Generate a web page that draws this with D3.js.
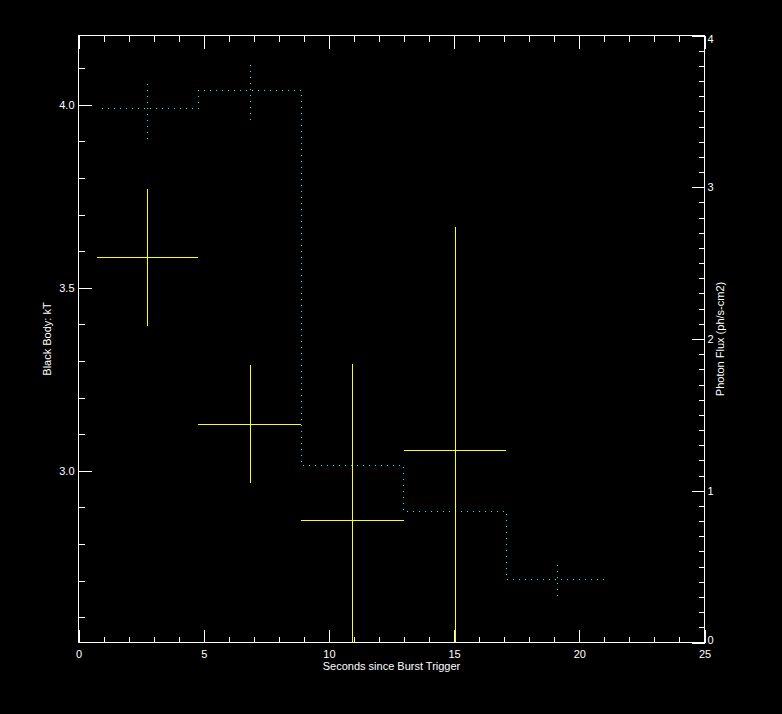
<!DOCTYPE html>
<html>
<head>
<meta charset="utf-8">
<script src="https://cdn.jsdelivr.net/npm/d3@7"></script>
<style>
  html, body { margin: 0; padding: 0; background: #000; }
  svg { display: block; }
  text { font-family: "Liberation Sans", Arial, sans-serif; font-size: 11px; fill: #fff; }
</style>
</head>
<body>
<svg id="chart" width="782" height="714"></svg>
<script>
// Black body kT + photon flux vs time since burst trigger

// ─── Data ─────────────────────────────────────────────────────────────────────

// time bins (seconds since trigger)
const binEdges   = [0.73, 4.79, 8.90, 12.99, 17.09, 20.96];
const binCenters = [2.76, 6.86, 10.96, 15.06, 19.13];

// black body kT (left axis), with error bar ends
const kT     = [3.582, 3.126, 2.864, 3.055];
const kTHigh = [3.769, 3.288, 3.293, 3.665];
const kTLow  = [3.395, 2.966, 2.435, 2.445];

// photon flux (right axis), ph/s-cm2
const flux    = [3.519, 3.637, 1.164, 0.862, 0.415];
const fluxErr = [0.197, 0.203, 0.170, 0.150, 0.133];

// tick labels
const xMajor = [0, 5, 10, 15, 20, 25];
const kTMajor = [3.0, 3.5, 4.0];
const fluxMajor = [0, 1, 2, 3, 4];

// ─── Layout ───────────────────────────────────────────────────────────────────

const W = 782, H = 714;
const L = 78.5, R = 704.5, T = 35.5, B = 642.5;
const WHITE = '#ffffff', YELLOW = '#ffff00', CYAN = '#00ffff';
const FONT = '"Liberation Sans", Arial, sans-serif';

const svg = d3.select('#chart');
svg.append('rect').attr('width', W).attr('height', H).attr('fill', '#000');

const x = d3.scaleLinear().domain([0, 25]).range([L, R]);
const yL = d3.scaleLinear().domain([2.531, 4.189]).range([B, T]);
const yR = d3.scaleLinear().domain([0, 4]).range([B, T]);

svg.append('clipPath').attr('id', 'plot-clip')
  .append('rect').attr('x', L).attr('y', T).attr('width', R - L).attr('height', B - T);

const crisp = v => Math.round(v - 0.5) + 0.5;

// ─── Axes ─────────────────────────────────────────────────────────────────────

function styleAxis(g) {
  g.select('.domain').remove();
  g.selectAll('line').attr('stroke', WHITE).attr('shape-rendering', 'crispEdges');
  g.selectAll('text').attr('fill', WHITE).attr('font-family', FONT).attr('font-size', 11);
}

const xMinor = d3.range(1, 25).filter(v => v % 5 !== 0);
const kTMinor = d3.range(26, 42).map(v => v / 10).filter(v => !kTMajor.includes(v));
const fluxMinor = d3.range(1, 40).map(v => v / 10).filter(v => v % 1 !== 0);

// bottom
svg.append('g').attr('transform', `translate(0,${B})`)
  .call(d3.axisBottom(x).tickValues(xMajor).tickSize(-13).tickPadding(8).tickFormat(d3.format('d')))
  .call(styleAxis);
svg.append('g').attr('transform', `translate(0,${B})`)
  .call(d3.axisBottom(x).tickValues(xMinor).tickSize(-6).tickFormat(''))
  .call(styleAxis);

// top
svg.append('g').attr('transform', `translate(0,${T})`)
  .call(d3.axisTop(x).tickValues(xMajor).tickSize(-13).tickFormat(''))
  .call(styleAxis);
svg.append('g').attr('transform', `translate(0,${T})`)
  .call(d3.axisTop(x).tickValues(xMinor).tickSize(-6).tickFormat(''))
  .call(styleAxis);

// left (kT)
svg.append('g').attr('transform', `translate(${L},0)`)
  .call(d3.axisLeft(yL).tickValues(kTMajor).tickSize(-13).tickPadding(4).tickFormat(d3.format('.1f')))
  .call(styleAxis);
svg.append('g').attr('transform', `translate(${L},0)`)
  .call(d3.axisLeft(yL).tickValues(kTMinor).tickSize(-6).tickFormat(''))
  .call(styleAxis);

// right (flux)
svg.append('g').attr('transform', `translate(${R},0)`)
  .call(d3.axisRight(yR).tickValues(fluxMajor).tickSize(-13).tickPadding(3).tickFormat(d3.format('d')))
  .call(styleAxis)
  .selectAll('text')
  .attr('dy', d => d === 4 ? '0.68em' : d === 0 ? '0.1em' : '0.32em');
svg.append('g').attr('transform', `translate(${R},0)`)
  .call(d3.axisRight(yR).tickValues(fluxMinor).tickSize(-6).tickFormat(''))
  .call(styleAxis);

// frame
svg.append('rect')
  .attr('x', L).attr('y', T).attr('width', R - L).attr('height', B - T)
  .attr('fill', 'none').attr('stroke', WHITE).attr('shape-rendering', 'crispEdges');

// titles
svg.append('text')
  .attr('x', (L + R) / 2).attr('y', 670)
  .attr('text-anchor', 'middle')
  .attr('font-size', 11.3)
  .text('Seconds since Burst Trigger');

svg.append('text')
  .attr('transform', `translate(51,${(T + B) / 2}) rotate(-90)`)
  .attr('text-anchor', 'middle')
  .text('Black Body: kT');

svg.append('text')
  .attr('transform', `translate(724,${(T + B) / 2}) rotate(-90)`)
  .attr('text-anchor', 'middle')
  .attr('font-size', 11.5)
  .text('Photon Flux (ph/s-cm2)');

// ─── Photon flux histogram (dotted cyan) ─────────────────────────────────────

const plot = svg.append('g').attr('clip-path', 'url(#plot-clip)');

const stepPts = flux.map((f, i) => [binEdges[i], f]);
stepPts.push([binEdges[binEdges.length - 1], flux[flux.length - 1]]);

const step = d3.line()
  .x(d => crisp(x(d[0])))
  .y(d => crisp(yR(d[1])))
  .curve(d3.curveStepAfter);

// dashes centred on the path points so each dot fills one whole pixel
plot.append('path')
  .datum(stepPts)
  .attr('d', step)
  .attr('fill', 'none')
  .attr('stroke', CYAN)
  .attr('stroke-width', 1)
  .attr('stroke-dasharray', '1,5')
  .attr('stroke-dashoffset', 0.5)
  .attr('shape-rendering', 'crispEdges');

plot.selectAll('line.flux-err')
  .data(flux)
  .enter().append('line')
  .attr('class', 'flux-err')
  .attr('x1', (d, i) => crisp(x(binCenters[i])))
  .attr('x2', (d, i) => crisp(x(binCenters[i])))
  .attr('y1', (d, i) => crisp(yR(d + fluxErr[i])))
  .attr('y2', (d, i) => crisp(yR(d - fluxErr[i])))
  .attr('stroke', CYAN)
  .attr('stroke-width', 1)
  .attr('stroke-dasharray', '1,5')
  .attr('stroke-dashoffset', 0.5)
  .attr('shape-rendering', 'crispEdges');

// ─── kT crosses (yellow) ─────────────────────────────────────────────────────

kT.forEach((v, i) => {
  const cx = crisp(x(binCenters[i]));
  plot.append('line')
    .attr('x1', x(binEdges[i])).attr('x2', x(binEdges[i + 1]))
    .attr('y1', crisp(yL(v))).attr('y2', crisp(yL(v)))
    .attr('stroke', YELLOW).attr('shape-rendering', 'crispEdges');
  plot.append('line')
    .attr('x1', cx).attr('x2', cx)
    .attr('y1', yL(kTHigh[i])).attr('y2', yL(kTLow[i]))
    .attr('stroke', YELLOW).attr('shape-rendering', 'crispEdges');
});
</script>
</body>
</html>
